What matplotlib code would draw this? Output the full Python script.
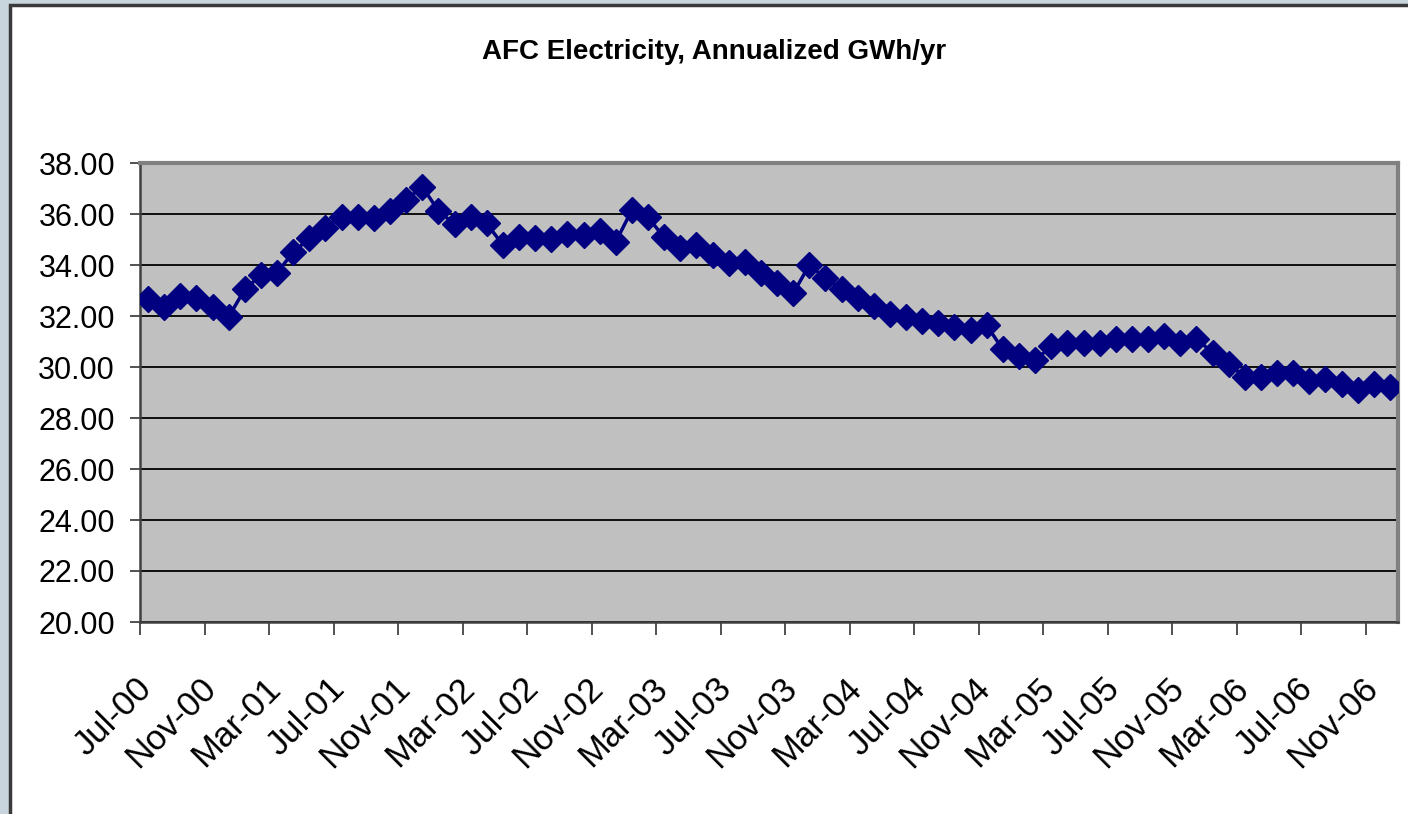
import matplotlib
matplotlib.use("Agg")
import matplotlib.pyplot as plt
from matplotlib.patches import Rectangle
from matplotlib.ticker import FixedLocator, FormatStrFormatter

# 数据: 月度年化用电量 (GWh/yr), Jul-00 .. Dec-06
years = ["00", "01", "02", "03", "04", "05", "06"]
month_names = ["Jan", "Feb", "Mar", "Apr", "May", "Jun",
               "Jul", "Aug", "Sep", "Oct", "Nov", "Dec"]
months = [f"{m}-{y}" for y in years for m in month_names][6:]

gwh = [
    32.65, 32.37, 32.78, 32.69, 32.37, 31.97, 33.05, 33.60, 33.70, 34.50,
    35.05, 35.46, 35.90, 35.87, 35.83, 36.12, 36.55, 37.07, 36.13, 35.60,
    35.90, 35.63, 34.78, 35.08, 35.05, 35.02, 35.20, 35.18, 35.33, 34.91,
    36.16, 35.87, 35.08, 34.65, 34.78, 34.39, 34.09, 34.13, 33.70, 33.31,
    32.89, 34.00, 33.48, 33.05, 32.69, 32.39, 32.08, 31.97, 31.82, 31.71,
    31.58, 31.47, 31.63, 30.69, 30.43, 30.26, 30.82, 30.95, 30.95, 30.95,
    31.08, 31.08, 31.08, 31.22, 30.95, 31.11, 30.56, 30.13, 29.60, 29.60,
    29.78, 29.78, 29.47, 29.54, 29.35, 29.08, 29.35, 29.22,
]

title = "AFC Electricity, Annualized GWh/yr"
y_ticks = [20, 22, 24, 26, 28, 30, 32, 34, 36, 38]

font = ["Liberation Sans", "DejaVu Sans"]

W, H = 1408, 814
fig = plt.figure(figsize=(W / 100, H / 100), dpi=100)
fig.patch.set_facecolor("#c9d5dc")

# 白色图表区域 (右侧和底部超出画面)
fig.patches.append(Rectangle((10 / W, -0.01), 1.02, (H - 5) / H + 0.01,
                             transform=fig.transFigure, facecolor="white",
                             edgecolor="#3a3a3a", linewidth=2.5, zorder=-1))

ax = fig.add_axes([140 / W, 1 - 622 / H, (1398 - 140) / W, (622 - 163) / H])
ax.set_facecolor("#c0c0c0")

x = list(range(len(months)))
ax.plot(x, gwh, color="#000080", linewidth=2.5, marker="D",
        markersize=13, markerfacecolor="#000080",
        markeredgecolor="#000080", zorder=3)

ax.set_xlim(-0.5, len(months) - 0.5)
ax.set_ylim(20, 38)

# y 轴
ax.set_yticks(y_ticks)
ax.yaxis.set_major_formatter(FormatStrFormatter("%.2f"))
ax.tick_params(axis="y", direction="out", length=7, width=1.2,
               color="#333333", pad=11)
for lab in ax.get_yticklabels():
    lab.set_fontfamily(font)
    lab.set_fontsize(22)
ax.grid(axis="y", color="black", linewidth=1.3, zorder=1)
ax.set_axisbelow(True)

# x 轴: 刻度在类别边界, 标签每4个月
label_idx = list(range(0, len(months), 4))
ax.xaxis.set_minor_locator(FixedLocator([i - 0.5 for i in label_idx]))
ax.set_xticks([i - 0.1 for i in label_idx])
ax.set_xticklabels([months[i] for i in label_idx])
ax.tick_params(axis="x", which="minor", direction="out", length=9,
               width=1.2, color="#333333")
ax.tick_params(axis="x", which="major", length=0, pad=44)
for lab in ax.get_xticklabels():
    lab.set_fontfamily(font)
    lab.set_fontsize(25)
    lab.set_rotation(45)
    lab.set_rotation_mode("anchor")
    lab.set_ha("right")
    lab.set_va("center")

for side in ["left", "bottom"]:
    ax.spines[side].set_color("#404040")
    ax.spines[side].set_linewidth(1.8)
for side in ["top", "right"]:
    ax.spines[side].set_color("#808080")
    ax.spines[side].set_linewidth(3)

fig.text(714 / W, 1 - 52 / H, title, ha="center", va="center",
         fontsize=20, fontweight="bold", family=font)

fig.savefig("out.png", dpi=100)
